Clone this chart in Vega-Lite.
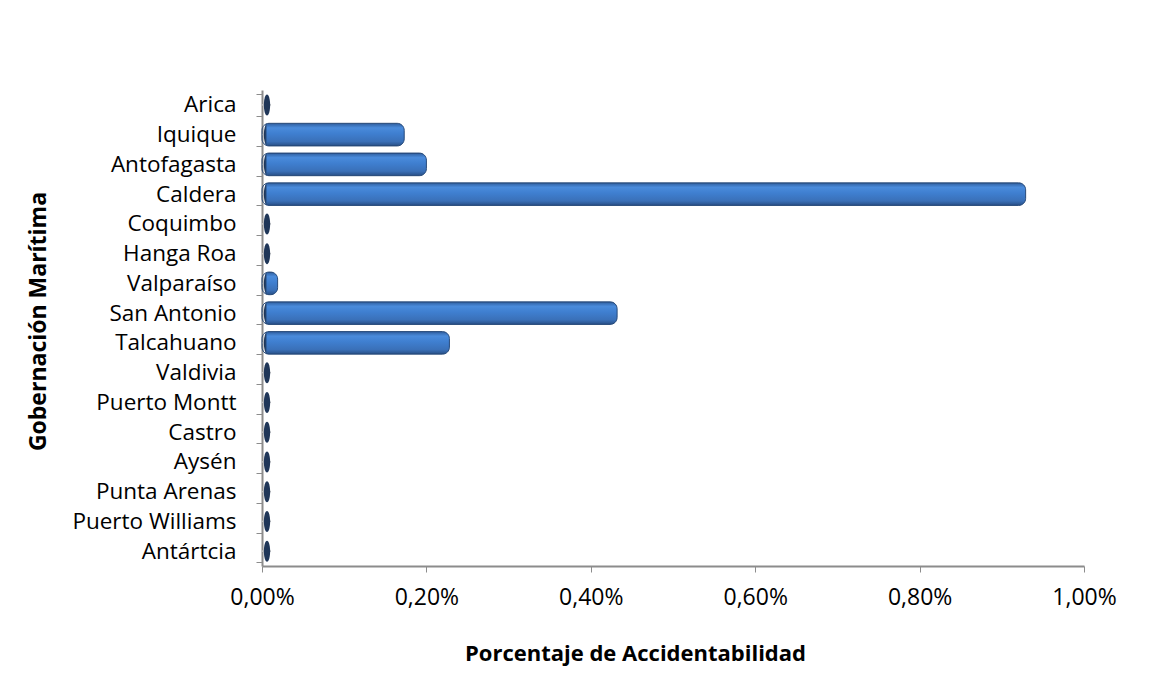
{
  "$schema": "https://vega.github.io/schema/vega-lite/v6.json",
  "width": 822,
  "height": 476,
  "autosize": {"type": "none"},
  "padding": {"left": 262, "top": 90, "right": 88, "bottom": 114},
  "background": "white",
  "data": {
    "values": [
      {"gobernacion": "Arica", "pct": 0.0},
      {"gobernacion": "Iquique", "pct": 0.00173},
      {"gobernacion": "Antofagasta", "pct": 0.002},
      {"gobernacion": "Caldera", "pct": 0.00929},
      {"gobernacion": "Coquimbo", "pct": 0.0},
      {"gobernacion": "Hanga Roa", "pct": 0.0},
      {"gobernacion": "Valparaíso", "pct": 0.00019},
      {"gobernacion": "San Antonio", "pct": 0.00432},
      {"gobernacion": "Talcahuano", "pct": 0.00228},
      {"gobernacion": "Valdivia", "pct": 0.0},
      {"gobernacion": "Puerto Montt", "pct": 0.0},
      {"gobernacion": "Castro", "pct": 0.0},
      {"gobernacion": "Aysén", "pct": 0.0},
      {"gobernacion": "Punta Arenas", "pct": 0.0},
      {"gobernacion": "Puerto Williams", "pct": 0.0},
      {"gobernacion": "Antártcia", "pct": 0.0}
    ]
  },
  "encoding": {
    "y": {
      "field": "gobernacion",
      "type": "nominal",
      "sort": null,
      "scale": {"paddingInner": 0.24, "paddingOuter": 0.12},
      "axis": {
        "title": "Gobernación Marítima",
        "titleFont": "Open Sans",
        "titleFontSize": 23,
        "titleFontWeight": "bold",
        "titleColor": "#000000",
        "titleX": -224,
        "titleY": 231,
        "titleAngle": -90,
        "titleAlign": "center",
        "titleBaseline": "middle",
        "labelFont": "Open Sans",
        "labelFontSize": 22.5,
        "labelColor": "#000000",
        "labelPadding": 20,
        "tickBand": "extent",
        "tickSize": 6,
        "tickColor": "#8c8c8c",
        "domainColor": "#8c8c8c",
        "domainWidth": 2
      }
    }
  },
  "layer": [
    {
      "mark": {"type": "rule", "xOffset": 9, "color": "#c4c4c4", "strokeWidth": 1.5},
      "encoding": {"x": {"datum": 0, "type": "quantitative"}}
    },
    {
      "mark": {
        "type": "point",
        "shape": "M0,-1 A0.3,1 0 1,1 0,1 A0.3,1 0 1,1 0,-1 Z",
        "filled": true,
        "size": 441,
        "xOffset": 5,
        "color": "#1f3658",
        "opacity": 1
      },
      "encoding": {
        "x": {"datum": 0, "type": "quantitative"}
      }
    },
    {
      "transform": [{"filter": "datum.pct > 0"}],
      "mark": {
        "type": "bar",
        "cornerRadius": 7,
        "xOffset": 4,
        "stroke": "#274a7a",
        "strokeWidth": 1,
        "color": {
          "gradient": "linear",
          "x1": 0, "y1": 0, "x2": 0, "y2": 1,
          "stops": [
            {"offset": 0, "color": "#2f5e9e"},
            {"offset": 0.2, "color": "#4a8bdb"},
            {"offset": 0.45, "color": "#3f7fd0"},
            {"offset": 0.8, "color": "#3a70b8"},
            {"offset": 1, "color": "#284f86"}
          ]
        }
      },
      "encoding": {
        "x": {
          "field": "pct",
          "type": "quantitative",
          "scale": {"domain": [0, 0.01], "nice": false, "zero": true},
          "axis": {
            "title": "Porcentaje de Accidentabilidad",
            "titleFont": "Open Sans",
            "titleFontSize": 22,
            "titleFontWeight": "bold",
            "titleColor": "#000000",
            "titlePadding": 34,
            "titleX": 373,
            "values": [0, 0.002, 0.004, 0.006, 0.008, 0.01],
            "labelExpr": "replace(format(datum.value, '.2%'), '.', ',')",
            "labelFont": "Open Sans",
            "labelFontSize": 23,
            "labelColor": "#000000",
            "labelPadding": 14,
            "labelFlush": false,
            "grid": false,
            "tickSize": 6,
            "tickColor": "#8c8c8c",
            "domainColor": "#8c8c8c",
            "domainWidth": 2
          }
        }
      }
    }
  ],
  "config": {"view": {"stroke": null}}
}
